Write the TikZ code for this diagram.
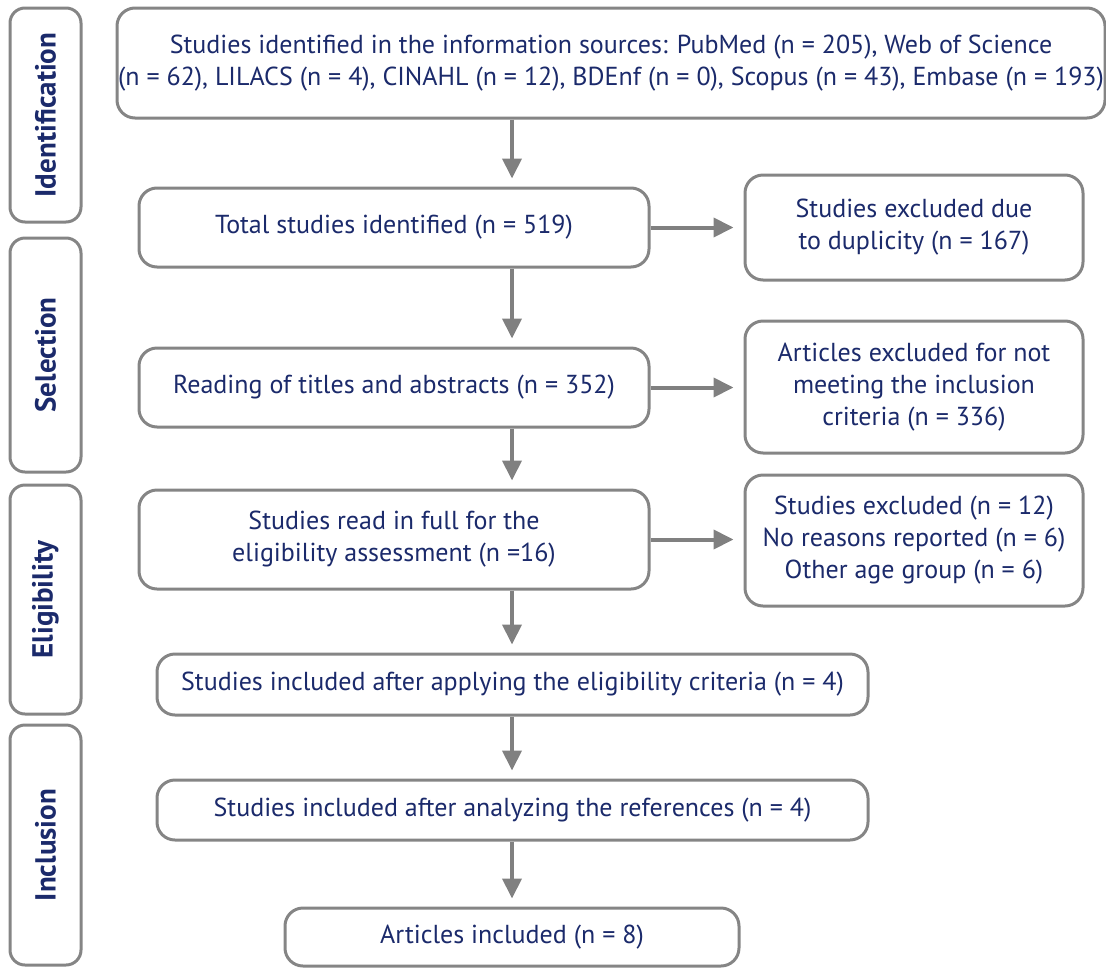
\documentclass[tikz,border=0pt]{standalone}
\usepackage{fontspec}
\setmainfont{PT Sans}
\usetikzlibrary{arrows.meta,calc}
\definecolor{navy}{HTML}{1B2A6B}
\definecolor{bgray}{HTML}{858585}
\definecolor{agray}{HTML}{808080}
\tikzset{
  box/.style={draw=bgray, line width=3pt, rounded corners=18pt, fill=white, text=navy,
    font=\fontsize{26}{32}\selectfont, align=center, inner sep=0pt},
  side/.style={draw=bgray, line width=3pt, rounded corners=15pt, text=navy,
    minimum width=71pt, inner sep=0pt},
  sidelabel/.style={text=navy, font=\fontsize{29}{32}\selectfont\bfseries, rotate=90},
  arr/.style={draw=agray, line width=4pt, -{Triangle[length=20pt,width=19pt]}, shorten >=8pt}
}
\begin{document}
\begin{tikzpicture}[x=1pt,y=-1pt]
\useasboundingbox (0,0) rectangle (1106,967);
% side boxes
\node[side, minimum height=214pt] (sid) at (45.5,115) {};
\node[side, minimum height=234pt] (ssel) at (45.5,355) {};
\node[side, minimum height=229pt] (selig) at (45.5,599.5) {};
\node[side, minimum height=240pt] (sinc) at (45.5,845) {};
\node[sidelabel] (lid) at (sid.center) {Identification};
\node[sidelabel] (lsel) at (ssel.center) {Selection};
\node[sidelabel] (lelig) at (selig.center) {Eligibility};
\node[sidelabel] (linc) at (sinc.center) {Inclusion};
% main boxes
\node[box, minimum width=988pt, minimum height=110pt] (top) at (611,63)
  {Studies identified in the information sources: PubMed (n = 205), Web of Science\\(n = 62), LILACS (n = 4), CINAHL (n = 12), BDEnf (n = 0), Scopus (n = 43), Embase (n = 193)};
\node[box, minimum width=510pt, minimum height=79pt] (total) at (394,227.5)
  {Total studies identified (n = 519)};
\node[box, minimum width=338pt, minimum height=105pt] (dup) at (914,227.5)
  {Studies excluded due\\to duplicity (n = 167)};
\node[box, minimum width=510pt, minimum height=79pt] (read) at (394,387.5)
  {Reading of titles and abstracts (n = 352)};
\node[box, minimum width=338pt, minimum height=132pt] (artex) at (914,387)
  {Articles excluded for not\\meeting the inclusion\\criteria (n = 336)};
\node[box, minimum width=510pt, minimum height=99pt] (full) at (394,539.5)
  {Studies read in full for the\\eligibility assessment (n =16)};
\node[box, minimum width=338pt, minimum height=131pt] (studex) at (914,540.5)
  {Studies excluded (n = 12)\\No reasons reported (n = 6)\\Other age group (n = 6)};
\node[box, minimum width=711pt, minimum height=61pt] (incel) at (512.5,684.5)
  {Studies included after applying the eligibility criteria (n = 4)};
\node[box, minimum width=711pt, minimum height=60pt] (incref) at (512.5,810)
  {Studies included after analyzing the references (n = 4)};
\node[box, minimum width=454pt, minimum height=58pt] (art) at (512,937)
  {Articles included (n = 8)};
% arrows
\coordinate (ax) at (512,0);
\draw[arr] (top.south -| ax) -- (total.north -| ax);
\draw[arr] (total.south -| ax) -- (read.north -| ax);
\draw[arr] (read.south -| ax) -- (full.north -| ax);
\draw[arr] (full.south -| ax) -- (incel.north -| ax);
\draw[arr] (incel.south -| ax) -- (incref.north -| ax);
\draw[arr] (incref.south -| ax) -- (art.north -| ax);
\draw[arr, shorten >=10pt] (total.east) -- (total.east -| dup.west);
\draw[arr, shorten >=10pt] (read.east) -- (read.east -| artex.west);
\draw[arr, shorten >=10pt] (full.east) -- (full.east -| studex.west);
\end{tikzpicture}
\end{document}
